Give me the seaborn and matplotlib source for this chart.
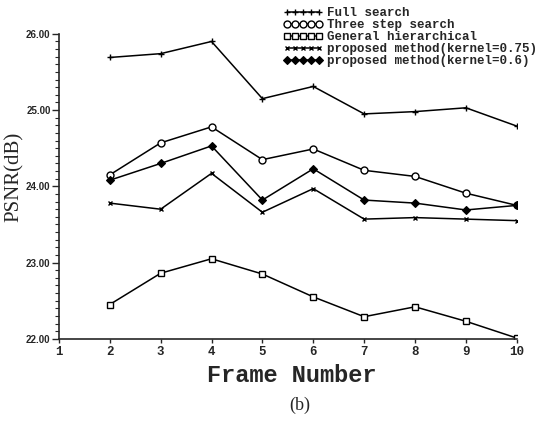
import matplotlib
matplotlib.use('Agg')
import matplotlib.pyplot as plt
from matplotlib.ticker import MultipleLocator, FormatStrFormatter
import seaborn as sns

# --- data ---
frames = [2, 3, 4, 5, 6, 7, 8, 9, 10]
full_search = [25.69, 25.74, 25.90, 25.15, 25.31, 24.95, 24.98, 25.03, 24.79]
three_step = [24.15, 24.57, 24.78, 24.35, 24.49, 24.21, 24.13, 23.91, 23.75]
general_hier = [22.45, 22.86, 23.05, 22.85, 22.55, 22.29, 22.42, 22.23, 22.01]
proposed_075 = [23.78, 23.70, 24.17, 23.66, 23.97, 23.57, 23.59, 23.57, 23.55]
proposed_06 = [24.08, 24.30, 24.53, 23.82, 24.23, 23.82, 23.78, 23.69, 23.75]

labels = ["Full search", "Three step search", "General hierarchical",
          "proposed method(kernel=0.75)", "proposed method(kernel=0.6)"]

sns.set_style('ticks')
mono = ['Liberation Mono', 'DejaVu Sans Mono']
serif = ['Liberation Serif', 'DejaVu Serif']

fig = plt.figure(figsize=(5.4, 4.23), dpi=100)
ax = fig.add_axes([0.109, 0.199, 0.848, 0.721])

styles = [
    dict(marker='+', markersize=4, markeredgewidth=1.0),
    dict(marker='o', markersize=5, markerfacecolor='white', markeredgewidth=1.0),
    dict(marker='s', markersize=4, markerfacecolor='white', markeredgewidth=1.0),
    dict(marker='x', markersize=3.5, markeredgewidth=1.0),
    dict(marker='D', markersize=4, markerfacecolor='black', markeredgewidth=0.8),
]
series = [full_search, three_step, general_hier, proposed_075, proposed_06]
for vals, lab, st in zip(series, labels, styles):
    sns.lineplot(x=frames, y=vals, color='black', linewidth=1.1,
                 markeredgecolor='black', label=lab, ax=ax, **st)

ax.set_xlim(1, 10)
ax.set_ylim(22, 26)
ax.set_xticks(range(1, 11))
ax.yaxis.set_major_locator(MultipleLocator(1))
ax.yaxis.set_minor_locator(MultipleLocator(0.1))
ax.yaxis.set_major_formatter(FormatStrFormatter('%.2f'))
ax.tick_params(axis='y', which='major', length=5, width=1.0, direction='out', pad=1)
ax.tick_params(axis='y', which='minor', length=3, width=0.8, direction='out')
ax.tick_params(axis='x', length=3, width=1.0, direction='out', pad=2)
for t in ax.get_yticklabels():
    t.set_fontfamily(['Liberation Sans Narrow', 'Liberation Sans'])
    t.set_fontweight('bold')
    t.set_fontsize(7)
for t in ax.get_xticklabels():
    t.set_fontfamily(mono)
    t.set_fontweight('bold')
    t.set_fontsize(9)
sns.despine(ax=ax)
for sp in ax.spines.values():
    sp.set_linewidth(1.2)

ax.set_xlabel("Frame Number", fontfamily=mono, fontweight='bold', fontsize=17)
ax.xaxis.set_label_coords(292 / 540, 1 - 376 / 423, transform=fig.transFigure)
ax.set_ylabel("PSNR(dB)", fontfamily=serif, fontsize=15)
ax.yaxis.set_label_coords(14 / 540, 1 - 177 / 423, transform=fig.transFigure)
ax.xaxis.label.set_va('center')
ax.yaxis.label.set_va('center')

leg = ax.legend(loc='upper left', bbox_to_anchor=(283 / 540, 1 - 7 / 423),
                bbox_transform=fig.transFigure, frameon=False, numpoints=5,
                handlelength=3.2, handletextpad=0.3, labelspacing=0.0,
                borderaxespad=0, borderpad=0,
                prop=dict(family=mono, weight='bold', size=9))

fig.text(300 / 540, 1 - 405 / 423, "(b)", ha='center', va='center',
         fontfamily=serif, fontsize=13)

fig.savefig('out.png', dpi=100)
